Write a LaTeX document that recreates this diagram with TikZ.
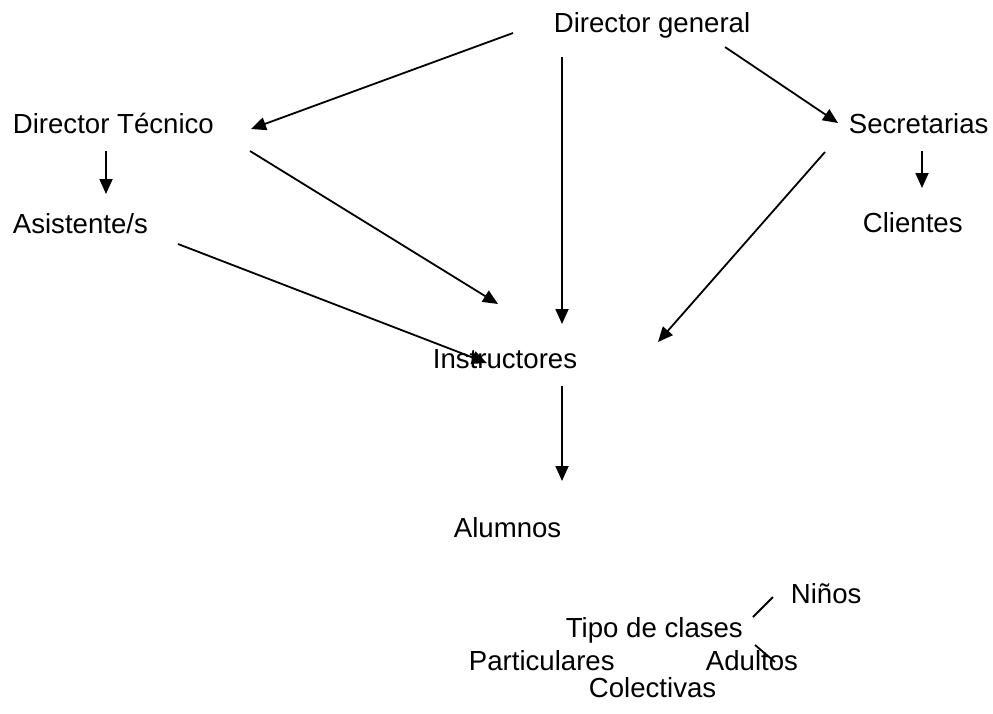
\documentclass[tikz,border=0pt]{standalone}
\usepackage{fontspec}
\setmainfont{Liberation Sans}
\usetikzlibrary{arrows.meta}
\begin{document}
\begin{tikzpicture}[x=1pt, y=-1pt, >={Triangle[length=15pt,width=13pt]}, line width=1.8pt,
    lbl/.style={anchor=base west, inner sep=0pt, font=\fontsize{27.6}{33}\selectfont}]
\useasboundingbox (0,0) rectangle (993,713);
\node[lbl] (dg) at (553,32) {Director general};
\node[lbl] (dt) at (12,133) {Director Técnico};
\node[lbl] (as) at (12,233) {Asistente/s};
\node[lbl] (se) at (848,133) {Secretarias};
\node[lbl] (cl) at (862,232) {Clientes};
\node[lbl] (in) at (432,368) {Instructores};
\node[lbl] (al) at (453,537) {Alumnos};
\node[lbl] (ni) at (790,603) {Niños};
\node[lbl] (tc) at (565,637) {Tipo de clases};
\node[lbl] (pa) at (468,670) {Particulares};
\node[lbl] (ad) at (705,670) {Adultos};
\node[lbl] (co) at (588,697) {Colectivas};
% extremos de las flechas
\coordinate (dg1) at (513,33);  \coordinate (dt1) at (251,129);
\coordinate (dg2) at (562,57);  \coordinate (in1) at (562,324);
\coordinate (dg3) at (725,47);  \coordinate (se1) at (838,123);
\coordinate (dt2) at (106,151); \coordinate (as1) at (106,194);
\coordinate (dt3) at (250,151); \coordinate (in2) at (498,304);
\coordinate (as2) at (178,244); \coordinate (in3) at (487,363);
\coordinate (se2) at (825,152); \coordinate (in4) at (658,342);
\coordinate (se3) at (922,151); \coordinate (cl1) at (922,188);
\coordinate (in5) at (562,386); \coordinate (al1) at (562,481);
\coordinate (tc1) at (753,617); \coordinate (ni1) at (773,597);
\coordinate (tc2) at (755,645); \coordinate (ad1) at (775,662);
\draw[->] (dg1)--(dt1);
\draw[->] (dg2)--(in1);
\draw[->] (dg3)--(se1);
\draw[->] (dt2)--(as1);
\draw[->] (dt3)--(in2);
\draw[->] (as2)--(in3);
\draw[->] (se2)--(in4);
\draw[->] (se3)--(cl1);
\draw[->] (in5)--(al1);
\draw (tc1)--(ni1);
\draw (tc2)--(ad1);
\end{tikzpicture}
\end{document}
